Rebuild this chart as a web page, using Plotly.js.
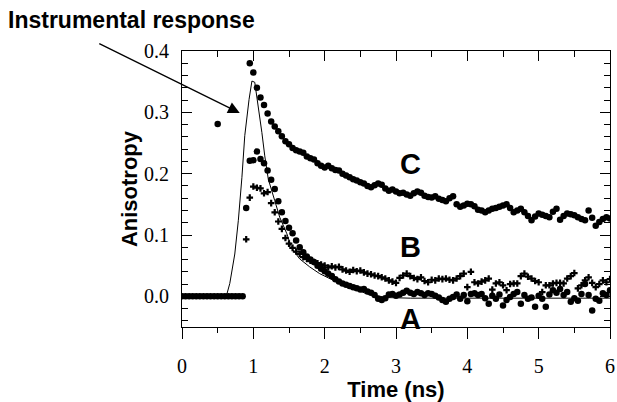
<!DOCTYPE html>
<html>
<head>
<meta charset="utf-8">
<script src="https://cdn.plot.ly/plotly-3.0.1.min.js"></script>
<style>html,body{margin:0;padding:0;background:#fff;}#chart{width:617px;height:402px;}</style>
</head>
<body>
<div id="chart"></div>
<script>
// Time grid (ns)
const timeNs = [0.00,0.05,0.10,0.15,0.20,0.25,0.30,0.35,0.40,0.45,0.50,0.55,0.60,0.65,0.70,0.75,0.80,0.85,
 0.90,0.95,1.00,1.05,1.10,1.15,1.20,1.25,1.30,1.35,1.40,1.45,1.50,1.55,1.60,1.65,1.70,1.75,1.80,1.85,
 1.90,1.95,2.00,2.05,2.10,2.15,2.20,2.25,2.30,2.35,2.40,2.45,2.50,2.55,2.60,2.65,2.70,2.75,2.80,2.85,
 2.90,2.95,3.00,3.05,3.10,3.15,3.20,3.25,3.30,3.35,3.40,3.45,3.50,3.55,3.60,3.65,3.70,3.75,3.80,3.85,
 3.90,3.95,4.00,4.05,4.10,4.15,4.20,4.25,4.30,4.35,4.40,4.45,4.50,4.55,4.60,4.65,4.70,4.75,4.80,4.85,
 4.90,4.95,5.00,5.05,5.10,5.15,5.20,5.25,5.30,5.35,5.40,5.45,5.50,5.55,5.60,5.65,5.70,5.75,5.80,5.85,
 5.90,5.95,6.00];

// Series A (dots, lower)
const seriesA = [0,0,0,0,0,0,0,0,0,0,0,0,0,0,0,0,0,0,
 0.144,0.221,0.222,0.236,0.224,0.217,0.205,0.190,0.175,0.155,
 0.137,0.123,0.112,0.103,0.091,0.080,0.072,0.065,0.060,0.056,
 0.050,0.045,0.041,0.037,0.033,0.028,0.024,0.021,0.019,0.017,
 0.015,0.013,0.011,0.012,0.008,0.006,0.002,-0.004,-0.006,-0.003,
 0.003,0.004,0.001,0.003,0.006,0.009,0.006,0.004,0.007,0.005,
 0.002,0.005,0.004,0.001,-0.002,-0.006,-0.009,-0.004,-0.001,0.003,
 -0.004,0.002,-0.008,0.004,0.005,0.002,0.004,-0.003,-0.012,0.001,
 -0.004,0.003,-0.015,-0.006,-0.001,0.004,0.007,-0.012,0.002,-0.004,
 -0.002,-0.017,0.001,-0.004,-0.017,0.003,0.010,0.006,0.012,0.002,
 0.007,-0.009,-0.003,-0.007,0.004,0.020,0.002,-0.023,-0.004,-0.007,
 0.005,0.002,0.010];

// Series B (plus markers)
const seriesB = [null,null,null,null,null,null,null,null,null,null,null,null,null,null,null,null,null,null,
 0.093,0.161,0.179,0.177,0.176,0.168,0.170,0.152,0.137,0.122,
 0.110,0.095,0.086,0.079,0.073,0.069,0.064,0.061,0.058,0.056,
 0.054,0.052,0.050,0.047,0.049,0.047,0.048,0.044,0.042,0.040,
 0.043,0.041,0.042,0.039,0.037,0.036,0.034,0.033,0.031,0.029,
 0.026,0.024,0.022,0.030,0.034,0.037,0.033,0.030,0.028,0.031,
 0.025,0.023,0.027,0.026,0.029,0.028,0.029,0.027,0.026,0.029,
 0.033,0.037,0.015,0.040,0.023,0.021,0.024,0.026,0.029,0.011,
 0.021,0.023,0.018,0.010,0.020,0.021,0.021,0.033,0.037,0.032,
 0.029,0.025,0.023,0.007,0.018,0.018,0.021,0.022,0.022,0.021,
 0.029,0.033,0.038,0.013,0.018,0.026,0.031,0.022,0.015,0.020,
 0.026,0.023,0.028];

// Series C (dots, upper)
const seriesC = [null,null,null,null,null,null,null,null,null,null,0.281,null,null,null,null,null,null,null,
 null,0.380,0.365,0.340,0.324,0.312,0.298,0.285,0.277,0.269,
 0.261,0.253,0.248,0.242,0.238,0.236,0.234,0.228,0.225,0.223,
 0.217,0.213,0.210,0.213,0.209,0.206,0.205,0.200,0.197,0.194,
 0.191,0.189,0.186,0.184,0.180,0.178,0.181,0.184,0.182,0.176,
 0.172,0.174,0.171,0.168,0.169,0.166,0.164,0.168,0.171,0.169,
 0.164,0.162,0.161,0.163,0.159,0.157,0.155,0.160,0.163,0.150,
 0.146,0.148,0.151,0.150,0.147,0.141,0.140,0.137,0.140,0.143,
 0.144,0.146,0.148,0.150,0.144,0.137,0.140,0.143,0.137,0.131,
 0.124,0.130,0.135,0.133,0.131,0.129,0.138,0.143,0.125,0.131,
 0.135,0.134,0.132,0.129,0.126,0.124,0.140,0.128,0.115,0.121,
 0.126,0.129,0.127];

// Instrumental response (line)
const timeIRF = [0.00,0.58,0.63,0.67,0.74,0.79,0.84,0.88,0.94,0.98,1.02,1.07,1.12,1.16,1.21,1.30,1.37,1.47,1.54,1.65,1.79,1.93,2.07,2.21,2.40,2.60,2.87,3.20,4.00,5.00,6.00];
const irf = [0,0,0.004,0.021,0.069,0.124,0.194,0.262,0.321,0.351,0.349,0.311,0.267,0.229,0.191,0.156,0.129,0.102,0.078,0.061,0.048,0.037,0.029,0.021,0.012,0.004,-0.002,-0.003,-0.003,-0.003,-0.003];

// Labels
const curveLabels = ['C','B','A'];
const curveLabelX = [3.2,3.2,3.2];
const curveLabelY = [0.215,0.080,-0.037];
const xTickLabels = ['0','1','2','3','4','5','6'];

const traces = [
  {x: timeIRF, y: irf, mode:'lines', line:{color:'#000', width:1}, showlegend:false, hoverinfo:'skip'},
  {x: timeNs, y: seriesA, mode:'markers', marker:{symbol:'circle', size:6.5, color:'#000'}, showlegend:false},
  {x: timeNs, y: seriesB, mode:'markers', marker:{symbol:'cross', size:5.5, color:'#000'}, showlegend:false},
  {x: timeNs, y: seriesC, mode:'markers', marker:{symbol:'circle', size:6.5, color:'#000'}, showlegend:false},
  {x: [], y: [], xaxis:'x2', showlegend:false}
];

const tickFont = {family:'Liberation Serif', size:20, color:'#000'};
const titleFont = {family:'Liberation Sans', size:22, color:'#000', weight:'bold'};

const annotations = curveLabels.map((t,i)=>({
  x: curveLabelX[i], y: curveLabelY[i], xref:'x', yref:'y', text:t, showarrow:false,
  font:{family:'Liberation Sans', size:29, color:'#000', weight:'bold'}
}));
annotations.push({
  xref:'paper', yref:'paper', x:(6-182)/428, y:(327-20)/276, xanchor:'left', yanchor:'middle',
  text:'Instrumental response', showarrow:false,
  font:{family:'Liberation Sans', size:23, color:'#000', weight:'bold'}
});
annotations.push({
  x:0.81, y:0.299, xref:'x', yref:'y', text:'', showarrow:true, ax:-142, ay:-70,
  arrowhead:2, arrowsize:1.8, arrowwidth:1.3, arrowcolor:'#000'
});

const layout = {
  width:617, height:402,
  margin:{l:182, r:7, t:51, b:75},
  paper_bgcolor:'#fff', plot_bgcolor:'#fff',
  xaxis:{
    range:[0,6], tickvals:[0,1,2,3,4,5,6], ticktext:xTickLabels,
    ticks:'outside', ticklen:11, tickwidth:1, tickcolor:'#000',
    minor:{dtick:0.5, tick0:0, ticks:'outside', ticklen:5, tickcolor:'#000', showgrid:false},
    showline:true, linecolor:'#000', linewidth:1, mirror:false,
    showgrid:false, zeroline:false, tickfont:tickFont, ticklabelstandoff:10,
    title:{text:'Time (ns)', font:titleFont, standoff:3}
  },
  xaxis2:{
    overlaying:'x', side:'top', range:[0,6], dtick:1, tick0:0,
    ticks:'inside', ticklen:10, tickcolor:'#000',
    minor:{dtick:0.5, tick0:0, ticks:'inside', ticklen:6, tickcolor:'#000', showgrid:false},
    showline:true, linecolor:'#000', linewidth:1, showticklabels:false,
    showgrid:false, zeroline:false
  },
  yaxis:{
    range:[-0.05,0.4], dtick:0.1, tick0:0, tickformat:'.1f',
    ticks:'inside', ticklen:10, tickcolor:'#000',
    minor:{dtick:0.02, tick0:0, ticks:'inside', ticklen:6, tickcolor:'#000', showgrid:false},
    showline:true, linecolor:'#000', linewidth:1, mirror:'ticks',
    showgrid:false, zeroline:false, tickfont:tickFont, ticklabelstandoff:8,
    title:{text:'Anisotropy', font:titleFont, standoff:0}
  },
  annotations: annotations
};

Plotly.newPlot('chart', traces, layout, {displayModeBar:false, staticPlot:true});
</script>
</body>
</html>
